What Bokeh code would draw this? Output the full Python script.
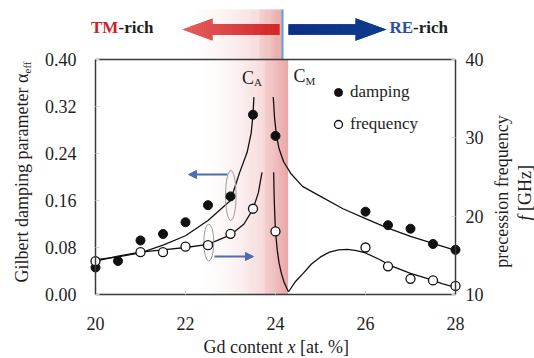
import numpy as np
from bokeh.plotting import figure
from bokeh.models import (Range1d, LinearAxis, FixedTicker, PrintfTickFormatter,
                          Label, Legend, LegendItem, Arrow, NormalHead)
from bokeh.embed import file_html
from bokeh.resources import INLINE

# ---------------- data ----------------
gd_damp = [20.0, 20.5, 21.0, 21.5, 22.0, 22.5, 23.0, 23.5, 24.0, 26.0, 26.5, 27.0, 27.5, 28.0]
alpha_eff = [0.046, 0.057, 0.092, 0.103, 0.123, 0.152, 0.167, 0.306, 0.270,
             0.141, 0.118, 0.112, 0.086, 0.076]

gd_freq = [20.0, 21.0, 21.5, 22.0, 22.5, 23.0, 23.5, 24.0, 26.0, 26.5, 27.0, 27.5, 28.0]
freq_ghz = [14.25, 15.4, 15.4, 16.1, 16.3, 17.75, 20.95, 18.05, 16.0, 13.6, 12.0, 11.8, 11.1]

# guide curves
fit_damp_l_x = [20.1, 20.5, 21.0, 21.5, 22.0, 22.5, 23.0, 23.2, 23.37, 23.46, 23.50, 23.52]
fit_damp_l_y = [0.060, 0.064, 0.071, 0.084, 0.100, 0.126, 0.160, 0.207, 0.242, 0.275, 0.306, 0.336]
fit_damp_r_x = [23.95, 23.98, 24.02, 24.08, 24.18, 24.35, 24.6, 25.0, 25.5, 26.0, 26.5, 27.0, 27.5, 28.0]
fit_damp_r_y = [0.336, 0.300, 0.271, 0.248, 0.226, 0.205, 0.184, 0.167, 0.146, 0.129, 0.113,
                0.099, 0.087, 0.075]
fit_freq_l_x = [20.1, 20.5, 21.0, 21.5, 22.0, 22.5, 23.0, 23.3, 23.5, 23.62, 23.7]
fit_freq_l_y = [14.4, 14.9, 15.4, 15.7, 16.0, 16.4, 17.6, 19.0, 20.9, 23.0, 25.6]
fit_freq_m_x = [23.96, 23.97, 23.985, 24.0, 24.04, 24.08, 24.13, 24.19, 24.25, 24.29]
fit_freq_m_y = [25.6, 22.5, 20.0, 18.05, 15.6, 14.0, 12.7, 11.6, 10.8, 10.35]
fit_freq_r_x = [24.29, 24.45, 24.6, 24.8, 25.0, 25.2, 25.4, 25.6, 25.8, 26.0, 26.3, 26.6,
                27.0, 27.4, 27.7, 28.0]
fit_freq_r_y = [10.35, 11.7, 12.6, 13.9, 14.8, 15.4, 15.7, 15.75, 15.6, 15.3, 14.5, 13.6,
                12.7, 12.0, 11.4, 10.9]

x_ticks = [20, 22, 24, 26, 28]
a_ticks = [0.0, 0.08, 0.16, 0.24, 0.32, 0.40]
f_ticks = [10, 20, 30, 40]
X_MIN, X_MAX = 20.0, 28.0
A_MIN, A_MAX = 0.0, 0.40
F_MIN, F_MAX = 10.0, 40.0
c_A, c_M = 23.75, 24.28

# ---------------- layout helpers (canvas pixel -> data) ----------------
W, H = 534, 358
PXX, PXA = 45.0, 587.5          # px per at.% ; px per unit alpha
X0_PX, A0_PX = 95.0, 294.0      # canvas px of x=20 and alpha=0


def dx(px):
    return X_MIN + (px - X0_PX) / PXX


def da(py):
    return (A0_PX - py) / PXA


def a2f(a):
    return F_MIN + a * (F_MAX - F_MIN) / (A_MAX - A_MIN)


SERIF = "Liberation Serif"
INK = "#1e1e1e"
BOX = "#3a3a3a"

p = figure(width=W, height=H, output_backend="svg", toolbar_location=None,
           x_range=Range1d(dx(0), dx(W)), y_range=Range1d(da(H), da(0)),
           min_border=0, min_border_left=0, min_border_right=0,
           min_border_top=0, min_border_bottom=0,
           x_axis_type=None, y_axis_type=None)
p.outline_line_color = None
p.background_fill_color = "white"
p.border_fill_color = "white"
p.extra_y_ranges = {"freq": Range1d(a2f(da(H)), a2f(da(0)))}


def lerp(c0, c1, t):
    t = max(0.0, min(1.0, t))
    return "#%02x%02x%02x" % tuple(int(round(a + (b - a) * t)) for a, b in zip(c0, c1))


# ---------------- pink gradient band ----------------
def band(x_start, x_knee, x_end, y0, y1, n=90):
    xs = np.linspace(x_start, x_end, n + 1)
    w = xs[1] - xs[0]
    lefts, rights, cols = [], [], []
    for i in range(n):
        xm = 0.5 * (xs[i] + xs[i + 1])
        if xm < x_knee:
            t = ((xm - x_start) / (x_knee - x_start)) ** 1.7
            c = lerp((255, 255, 255), (247, 218, 218), t)
        else:
            t = ((xm - x_knee) / (x_end - x_knee)) ** 1.3
            c = lerp((244, 206, 206), (233, 163, 163), t)
        lefts.append(xs[i])
        rights.append(min(xs[i + 1] + 0.4 * w, x_end))
        cols.append(c)
    p.quad(left=lefts, right=rights, bottom=y0, top=y1, fill_color=cols, line_color=None)


band(22.25, c_A, c_M, A_MIN, A_MAX)
band(21.95, c_A - 0.1, dx(282), A_MAX, da(9))

# blue separator line in header
p.segment(x0=[dx(282)], y0=[A_MAX], x1=[dx(282)], y1=[da(9)], line_color="#5aa2da", line_width=2)

# ---------------- axes, fixed at the plot box ----------------
xa = LinearAxis(ticker=FixedTicker(ticks=x_ticks), fixed_location=A_MIN, bounds=(X_MIN, X_MAX))
ya = LinearAxis(ticker=FixedTicker(ticks=a_ticks), formatter=PrintfTickFormatter(format="%.2f"),
                fixed_location=X_MIN, bounds=(A_MIN, A_MAX))
fa = LinearAxis(ticker=FixedTicker(ticks=f_ticks), y_range_name="freq",
                fixed_location=X_MAX, bounds=(F_MIN, F_MAX))
for ax, so in ((xa, 22), (ya, 19), (fa, 10)):
    ax.axis_line_color = BOX
    ax.axis_line_width = 1.5
    ax.major_tick_line_color = "#d0d0d0"
    ax.minor_tick_line_color = None
    ax.major_tick_in = 4
    ax.major_tick_out = 0
    ax.minor_tick_in = 0
    ax.minor_tick_out = 0
    ax.major_label_standoff = so
    ax.major_label_text_font = SERIF
    ax.major_label_text_font_size = "18px"
    ax.major_label_text_color = INK
p.add_layout(xa, "below")
p.add_layout(ya, "left")
p.add_layout(fa, "right")

# top edge of the box
p.segment(x0=[X_MIN], y0=[A_MAX], x1=[X_MAX], y1=[A_MAX], line_color=BOX, line_width=1.5)


# ---------------- header arrows (base shape + gradient slices) ----------------
def arrow_shape(tail_px, hb_px, tip_px, yc_px, body_px, head_px, c_tail, c_tip, n=30):
    yc = da(yc_px)
    bh, hh = body_px / 2.0 / PXA, head_px / 2.0 / PXA
    # full silhouette, mid colour (hides seams between slices)
    xs = [dx(tip_px), dx(hb_px), dx(hb_px), dx(tail_px), dx(tail_px), dx(hb_px), dx(hb_px)]
    ys = [yc, yc + hh, yc + bh, yc + bh, yc - bh, yc - bh, yc - hh]
    p.patch(xs, ys, fill_color=lerp(c_tail, c_tip, 0.5), line_color=None)

    sx_list, sy_list, cols = [], [], []
    # body slices
    e = np.linspace(tail_px, hb_px, n + 1)
    for i in range(n):
        a, b = e[i], e[i + 1]
        t = (0.5 * (a + b) - tail_px) / (tip_px - tail_px)
        sx_list.append([dx(a), dx(b), dx(b), dx(a)])
        sy_list.append([yc + bh, yc + bh, yc - bh, yc - bh])
        cols.append(lerp(c_tail, c_tip, t))
    # head slices (trapezoids)
    m = n // 2
    e = np.linspace(hb_px, tip_px, m + 1)
    for i in range(m):
        a, b = e[i], e[i + 1]
        ha = hh * (a - tip_px) / (hb_px - tip_px)
        hb_ = hh * (b - tip_px) / (hb_px - tip_px)
        t = (0.5 * (a + b) - tail_px) / (tip_px - tail_px)
        sx_list.append([dx(a), dx(b), dx(b), dx(a)])
        sy_list.append([yc + ha, yc + hb_, yc - hb_, yc - ha])
        cols.append(lerp(c_tail, c_tip, t))
    p.patches(sx_list, sy_list, fill_color=cols, line_color=None)


arrow_shape(279, 212, 182, 29, 11, 22, (212, 36, 36), (228, 98, 98))
arrow_shape(288, 355, 386, 29, 10.5, 22.5, (10, 48, 132), (16, 60, 142))

hdr = dict(text_font=SERIF, text_font_size="17px", text_font_style="bold",
           text_baseline="middle", text_align="left")
p.add_layout(Label(x=dx(90.5), y=da(27), text="TM", text_color="#cc1f2b", **hdr))
p.add_layout(Label(x=dx(90.5 + 27.6), y=da(27), text="-rich", text_color=INK, **hdr))
p.add_layout(Label(x=dx(389), y=da(27), text="RE", text_color="#2a4fa3", **hdr))
p.add_layout(Label(x=dx(389 + 23.6), y=da(27), text="-rich", text_color=INK, **hdr))

# ---------------- guide curves ----------------
cl = dict(line_color="#111111", line_width=1.3)
p.line(fit_damp_l_x, fit_damp_l_y, **cl)
p.line(fit_damp_r_x, fit_damp_r_y, **cl)
p.line(fit_freq_l_x, fit_freq_l_y, y_range_name="freq", **cl)
p.line(fit_freq_m_x, fit_freq_m_y, y_range_name="freq", **cl)
p.line(fit_freq_r_x, fit_freq_r_y, y_range_name="freq", **cl)

# ellipses + small axis arrows
p.ellipse(x=[dx(230.3), dx(208.3)], y=[da(195), da(242)], width=[10.5, 10], height=[50, 37],
          width_units="screen", height_units="screen", fill_color=None,
          line_color="#9a9a9a", line_width=1)
ac = "#4a6db3"
p.add_layout(Arrow(end=NormalHead(size=8, fill_color=ac, line_color=ac),
                   x_start=dx(227), y_start=da(174), x_end=dx(188), y_end=da(174),
                   line_color=ac, line_width=2))
p.add_layout(Arrow(end=NormalHead(size=8, fill_color=ac, line_color=ac),
                   x_start=dx(214), y_start=da(256), x_end=dx(253), y_end=da(256),
                   line_color=ac, line_width=2))

# ---------------- data markers ----------------
r_d = p.scatter(gd_damp, alpha_eff, marker="circle", size=9, fill_color="#111111",
                line_color="#111111", line_width=1)
r_f = p.scatter(gd_freq, freq_ghz, marker="circle", size=9, fill_color="white",
                line_color="#111111", line_width=1.3, y_range_name="freq")

leg = Legend(items=[LegendItem(label="damping", renderers=[r_d]),
                    LegendItem(label="frequency", renderers=[r_f])],
             location=(328, H - 134), orientation="vertical")
leg.label_text_font = SERIF
leg.label_text_font_size = "17px"
leg.label_text_color = INK
leg.glyph_width = 20
leg.glyph_height = 20
leg.label_height = 20
leg.spacing = 12
leg.padding = 0
leg.margin = 0
leg.label_standoff = 2
leg.border_line_color = None
leg.background_fill_alpha = 0
p.add_layout(leg, "center")


# ---------------- C_A / C_M labels ----------------
def c_label(px, mid_py, sub, sub_py):
    p.add_layout(Label(x=dx(px), y=da(mid_py), text="C", text_font=SERIF, text_font_size="18px",
                       text_color=INK, text_baseline="middle"))
    p.add_layout(Label(x=dx(px + 12), y=da(sub_py), text=sub, text_font=SERIF,
                       text_font_size="11px", text_color=INK, text_baseline="middle"))


c_label(241.5, 77, "A", 81)
c_label(293.0, 75.5, "M", 80)

# ---------------- axis titles ----------------
tl = dict(text_font=SERIF, text_font_size="18px", text_color=INK)
x_start, x_mid = 203.0, 346
p.add_layout(Label(x=dx(x_start), y=da(x_mid), text="Gd content", text_baseline="middle", **tl))
p.add_layout(Label(x=dx(x_start + 84.0), y=da(x_mid), text="x", text_font_style="italic",
                   text_baseline="middle", **tl))
p.add_layout(Label(x=dx(x_start + 96.5), y=da(x_mid), text="[at. %]", text_baseline="middle", **tl))

p.add_layout(Label(x=dx(21), y=da(282), text="Gilbert damping parameter \u03b1", angle=np.pi / 2,
                   text_align="left", text_baseline="middle", **tl))
p.add_layout(Label(x=dx(26), y=da(73), text="eff", angle=np.pi / 2, text_align="left",
                   text_baseline="middle", text_font=SERIF, text_font_size="11px", text_color=INK))

p.add_layout(Label(x=dx(501.5), y=da(191), text="precession frequency", angle=np.pi / 2,
                   text_align="center", text_baseline="middle", **tl))
p.add_layout(Label(x=dx(524), y=da(220), text="f", angle=np.pi / 2, text_align="left",
                   text_baseline="middle", text_font_style="italic", **tl))
p.add_layout(Label(x=dx(524), y=da(210.5), text="[GHz]", angle=np.pi / 2, text_align="left",
                   text_baseline="middle", **tl))

open("out.html", "w").write(file_html(p, INLINE))
